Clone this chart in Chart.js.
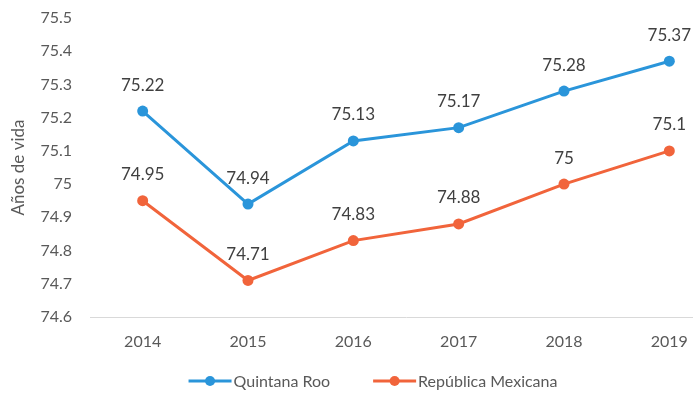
<!DOCTYPE html>
<html>
<head>
<meta charset="utf-8">
<script src="https://cdn.jsdelivr.net/npm/chart.js@4/dist/chart.umd.min.js"></script>
<style>
  html, body { margin: 0; padding: 0; background: #fff; overflow: hidden; }
  #wrap { width: 693px; height: 394px; overflow: hidden; }
  canvas { display: block; }
</style>
</head>
<body>
<div id="wrap"><canvas id="c" width="740" height="394"></canvas></div>
<script>
// Esperanza de vida al nacer, 2014-2019
const years = ['2014', '2015', '2016', '2017', '2018', '2019'];
const quintanaRoo = [75.22, 74.94, 75.13, 75.17, 75.28, 75.37];
const republicaMexicana = [74.95, 74.71, 74.83, 74.88, 75.00, 75.10];
const seriesNames = ['Quintana Roo', 'República Mexicana'];
const yTickValues = [74.6, 74.7, 74.8, 74.9, 75.0, 75.1, 75.2, 75.3, 75.4, 75.5];
const yAxisTitle = 'Años de vida';

const BLUE = '#2a95da';
const ORANGE = '#f1643b';
const FONT = 'Lato, "Open Sans", sans-serif';

Chart.defaults.font.family = FONT;

// Value labels above each point
const valueLabels = {
  id: 'valueLabels',
  afterDatasetsDraw(chart) {
    const ctx = chart.ctx;
    ctx.save();
    ctx.font = '17px ' + FONT;
    ctx.fillStyle = '#404040';
    ctx.textAlign = 'center';
    ctx.textBaseline = 'middle';
    chart.data.datasets.forEach((ds, i) => {
      const meta = chart.getDatasetMeta(i);
      meta.data.forEach((pt, j) => {
        ctx.fillText(String(ds.data[j]), pt.x, pt.y - 26);
      });
    });
    ctx.restore();
  }
};

// Bottom legend: line sample with a dot, then the series name
const lineLegend = {
  id: 'lineLegend',
  afterDraw(chart) {
    const ctx = chart.ctx;
    ctx.save();
    ctx.font = '16px ' + FONT;
    ctx.textBaseline = 'middle';
    ctx.textAlign = 'left';
    const y = 381;
    const sampleW = 43;
    const gapText = 2;
    const gapItems = 43;
    const items = chart.data.datasets.map(ds => ({
      label: ds.label,
      color: ds.borderColor,
      w: sampleW + gapText + ctx.measureText(ds.label).width
    }));
    const total = items.reduce((s, it) => s + it.w, 0) + gapItems * (items.length - 1);
    let x = 373 - total / 2;
    items.forEach(it => {
      ctx.strokeStyle = it.color;
      ctx.lineWidth = 3;
      ctx.beginPath();
      ctx.moveTo(x, y);
      ctx.lineTo(x + sampleW, y);
      ctx.stroke();
      ctx.fillStyle = it.color;
      ctx.beginPath();
      ctx.arc(x + sampleW / 2, y, 5, 0, Math.PI * 2);
      ctx.fill();
      ctx.fillStyle = '#595959';
      ctx.fillText(it.label, x + sampleW + gapText, y + 1);
      x += it.w + gapItems;
    });
    ctx.restore();
  }
};

new Chart(document.getElementById('c'), {
  type: 'line',
  data: {
    labels: years,
    datasets: [
      {
        label: seriesNames[0],
        data: quintanaRoo,
        borderColor: BLUE,
        backgroundColor: BLUE,
        borderWidth: 3,
        pointRadius: 5.5,
        pointBorderWidth: 0,
        tension: 0
      },
      {
        label: seriesNames[1],
        data: republicaMexicana,
        borderColor: ORANGE,
        backgroundColor: ORANGE,
        borderWidth: 3,
        pointRadius: 5.5,
        pointBorderWidth: 0,
        tension: 0
      }
    ]
  },
  options: {
    responsive: false,
    animation: false,
    layout: { padding: { top: 18, right: 18, bottom: 47, left: 0 } },
    plugins: {
      legend: { display: false },
      tooltip: { enabled: false }
    },
    scales: {
      x: {
        offset: true,
        grid: { display: false, drawTicks: false },
        border: { display: true, color: '#d9d9d9', width: 1 },
        ticks: { color: '#595959', font: { size: 16 }, padding: 15 },
        afterFit(scale) { scale.height = 30; }
      },
      y: {
        min: 74.6,
        max: 75.5,
        grid: { display: false, drawTicks: true, tickLength: 18 },
        border: { display: false },
        afterBuildTicks(axis) {
          axis.ticks = yTickValues.map(v => ({ value: v }));
        },
        ticks: {
          color: '#595959',
          font: { size: 16 },
          padding: 0,
          callback: v => String(Math.round(v * 10) / 10)
        },
        title: {
          display: true,
          text: yAxisTitle,
          color: '#595959',
          font: { size: 17 },
          padding: { top: 8, bottom: 0 }
        },
        afterFit(scale) { scale.width = 90; }
      }
    }
  },
  plugins: [valueLabels, lineLegend]
});
</script>
</body>
</html>
